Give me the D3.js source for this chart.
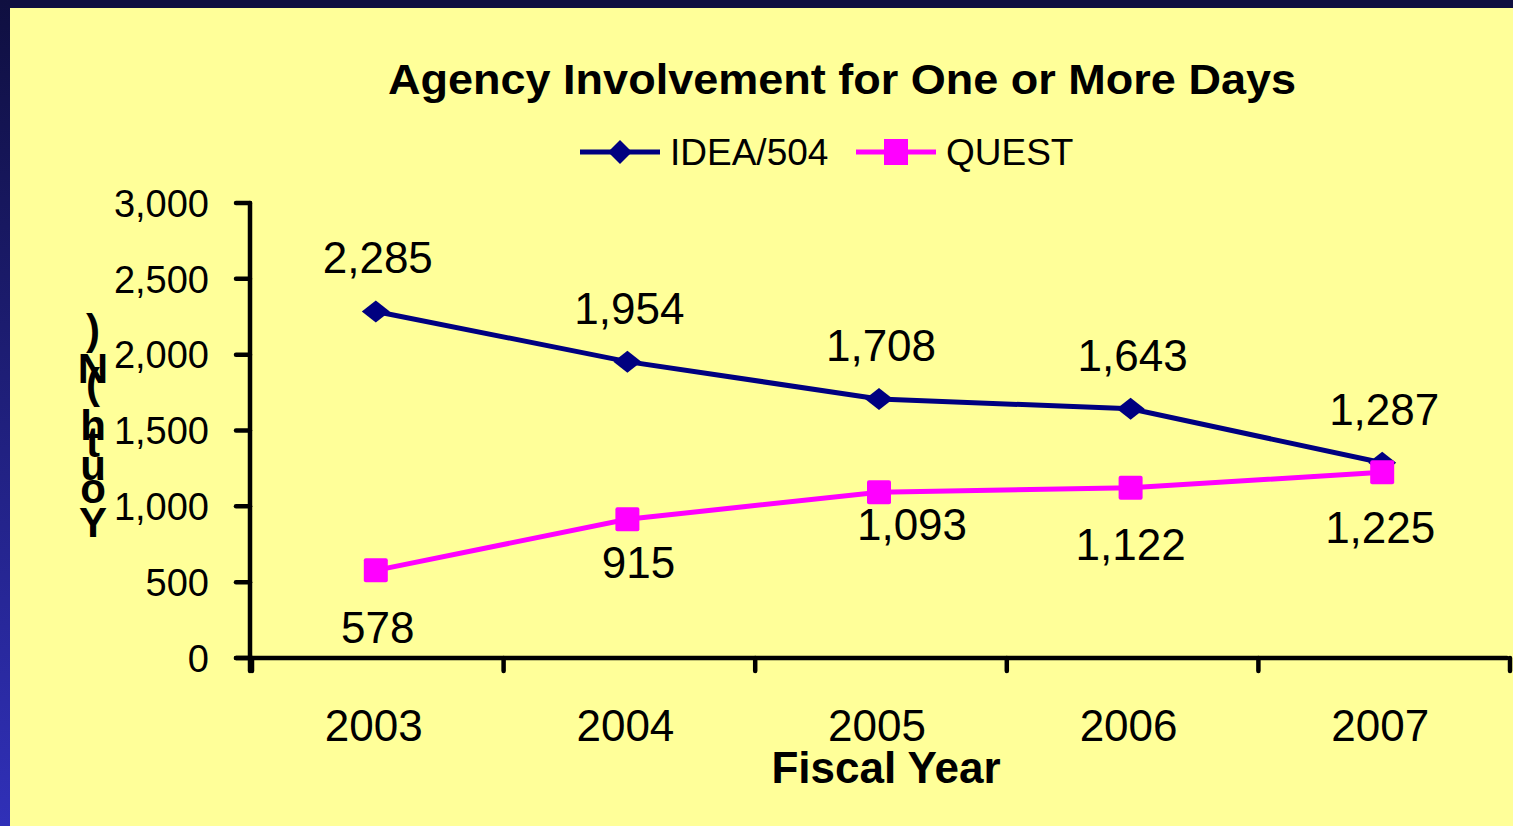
<!DOCTYPE html>
<head>
    <meta charset="utf-8">
    <style>
        body { margin: 0; background: #0f0f40; overflow: hidden; }
        text { font-family: "Liberation Sans", Arial, sans-serif; fill: #000; }
    </style>
</head>
<body>
    <div id="chart-area"></div>
    <script src="https://cdn.jsdelivr.net/npm/d3@7"></script>
    <script>
        var years = ["2003", "2004", "2005", "2006", "2007"]
        var idea = [2285, 1954, 1708, 1643, 1287]
        var quest = [578, 915, 1093, 1122, 1225]
        var yTicks = [0, 500, 1000, 1500, 2000, 2500, 3000]
        var title = "Agency Involvement for One or More Days"
        var yLabel = "Youth (N)"

        // label nudges for the QUEST values (they sit below the points)
        var questDx = [2, 11, 33, 0, -2]
        var questDy = [73, 59, 48, 72, 71]

        var W = 1513, H = 826
        var fmt = d3.format(",d")

        var svg = d3.select("#chart-area").append("svg")
            .attr("width", W).attr("height", H)

        var grad = svg.append("defs").append("linearGradient")
            .attr("id", "side").attr("x1", 0).attr("y1", 0).attr("x2", 0).attr("y2", 1)
        grad.append("stop").attr("offset", "0%").attr("stop-color", "#0f0f40")
        grad.append("stop").attr("offset", "100%").attr("stop-color", "#3030b8")

        svg.append("rect").attr("width", W).attr("height", H).attr("fill", "#0f0f40")
        svg.append("rect").attr("width", 10).attr("height", H).attr("fill", "url(#side)")
        svg.append("rect").attr("x", 10).attr("y", 8).attr("width", W - 10).attr("height", H - 8).attr("fill", "#ffff99")

        var x = d3.scaleBand().domain(years).range([250, 1508]).padding(0)
        var y = d3.scaleLinear().domain([0, 3000]).range([658, 203])
        var cx = d => x(d) + x.bandwidth() / 2

        // title
        svg.append("text").attr("x", 842).attr("y", 94)
            .attr("text-anchor", "middle").style("font-weight", "bold").style("font-size", "43px")
            .attr("textLength", 908).attr("lengthAdjust", "spacingAndGlyphs")
            .text(title)

        // legend
        var leg = [
            { name: "IDEA/504", color: "#000080", shape: "diamond", x0: 580 },
            { name: "QUEST", color: "#ff00ff", shape: "square", x0: 856 }
        ]
        var lg = svg.append("g").selectAll("g").data(leg).join("g")
            .attr("transform", d => `translate(${d.x0},152)`)
        lg.append("line").attr("x1", 0).attr("x2", 80).attr("stroke", d => d.color).attr("stroke-width", 5)
        lg.append("path").attr("transform", "translate(40,0)")
            .attr("d", d => d.shape == "diamond" ? "M-12,0L0,-12L12,0L0,12Z" : "M-12,-13H12V13H-12Z")
            .attr("fill", d => d.color)
        lg.append("text").attr("x", 90).attr("y", 13).style("font-size", "37px").text(d => d.name)

        // axes
        var ax = svg.append("g").attr("stroke", "#000").attr("stroke-width", 4.5).attr("stroke-linecap", "round")
        ax.append("line").attr("x1", 250).attr("x2", 250).attr("y1", y(3000)).attr("y2", 671)
        ax.append("line").attr("x1", 236).attr("x2", 1507).attr("y1", y(0)).attr("y2", y(0))
        ax.selectAll(".yt").data(yTicks).join("line")
            .attr("x1", 236).attr("x2", 250).attr("y1", d => y(d)).attr("y2", d => y(d))
        var bounds = years.map(d => x(d)).concat([x.range()[1]])
        ax.selectAll(".xt").data(bounds).join("line")
            .attr("x1", d => d + 2).attr("x2", d => d + 2).attr("y1", y(0)).attr("y2", 671)

        svg.append("g").selectAll("text").data(yTicks).join("text")
            .attr("x", 209).attr("y", d => y(d)).attr("dy", "0.36em")
            .attr("text-anchor", "end").style("font-size", "38px")
            .text(d => fmt(d))

        svg.append("g").selectAll("text").data(years).join("text")
            .attr("x", d => cx(d) - 2).attr("y", 741)
            .attr("text-anchor", "middle").style("font-size", "44px")
            .text(d => d)

        svg.append("text").attr("x", 886).attr("y", 783)
            .attr("text-anchor", "middle").style("font-weight", "bold").style("font-size", "44px")
            .text("Fiscal Year")

        // stacked y label, letters upright, read bottom to top
        var yl = yLabel.replace(/ /g, "").split("")
        var baseY = [537, 503, 480, 457, 440, 398, 383, 344]
        svg.append("g").selectAll("text").data(yl).join("text")
            .attr("x", 93).attr("y", (d, i) => baseY[i])
            .attr("text-anchor", "middle").style("font-weight", "bold").style("font-size", "42px")
            .text(d => d)

        // series
        var line = d3.line().x((d, i) => cx(years[i])).y(d => y(d))
        svg.append("path").datum(idea).attr("d", line).attr("fill", "none")
            .attr("stroke", "#000080").attr("stroke-width", 5)
        svg.append("path").datum(quest).attr("d", line).attr("fill", "none")
            .attr("stroke", "#ff00ff").attr("stroke-width", 5)

        svg.append("g").selectAll("path").data(idea).join("path")
            .attr("transform", (d, i) => `translate(${cx(years[i])},${y(d)})`)
            .attr("d", "M-14,0L0,-11L14,0L0,11Z").attr("fill", "#000080")
        svg.append("g").selectAll("rect").data(quest).join("rect")
            .attr("x", (d, i) => cx(years[i]) - 12).attr("y", d => y(d) - 12)
            .attr("width", 24).attr("height", 24).attr("rx", 2).attr("fill", "#ff00ff")

        svg.append("g").selectAll("text").data(idea).join("text")
            .attr("x", (d, i) => cx(years[i]) + 2).attr("y", d => y(d) - 38)
            .attr("text-anchor", "middle").style("font-size", "44px")
            .text(d => fmt(d))
        svg.append("g").selectAll("text").data(quest).join("text")
            .attr("x", (d, i) => cx(years[i]) + questDx[i]).attr("y", (d, i) => y(d) + questDy[i])
            .attr("text-anchor", "middle").style("font-size", "44px")
            .text(d => fmt(d))
    </script>
</body>
